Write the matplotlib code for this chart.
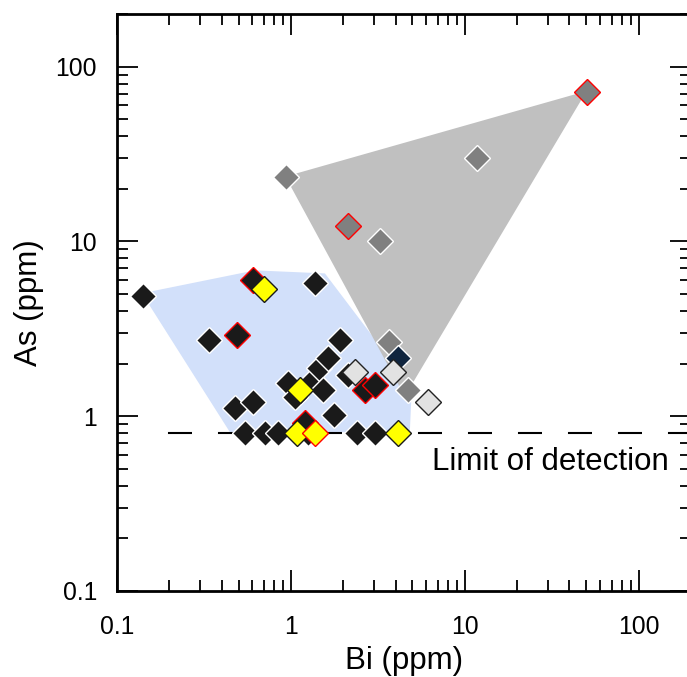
import matplotlib

matplotlib.use("Agg")

import matplotlib.pyplot as plt
from matplotlib.ticker import FixedLocator, LogLocator, NullFormatter, FixedFormatter

plt.rcParams["font.family"] = ["Liberation Sans", "DejaVu Sans"]
plt.rcParams["lines.scale_dashes"] = False

# --- data (Bi ppm, As ppm) ---
bi_black = [0.141, 0.338, 0.477, 0.605, 1.37, 0.96, 1.05, 1.34, 1.45, 1.63, 1.53, 1.77,
            2.13, 1.91, 0.544, 0.709, 0.842, 1.25, 2.39, 3.04]
as_black = [4.85, 2.72, 1.11, 1.20, 5.75, 1.54, 1.28, 1.61, 1.88, 2.14, 1.41, 1.01,
            1.71, 2.72, 0.8, 0.8, 0.8, 0.8, 0.8, 0.8]

bi_black_red = [0.49, 0.605, 1.20, 2.66, 3.04]
as_black_red = [2.90, 5.98, 0.92, 1.41, 1.50]

bi_gray = [0.936, 11.7, 3.25, 3.66, 4.70]
as_gray = [23.5, 30.2, 10.1, 2.65, 1.41]

bi_gray_red = [50.2, 2.13]
as_gray_red = [71.9, 12.3]

bi_navy = [4.12]
as_navy = [2.14]

bi_light = [2.33, 3.85, 6.13]
as_light = [1.78, 1.78, 1.20]

bi_yellow = [0.70, 1.13, 1.08, 4.12]
as_yellow = [5.32, 1.41, 0.8, 0.8]

bi_yellow_red = [1.37]
as_yellow_red = [0.8]

# field outlines
bi_blue_field = [0.139, 0.621, 1.57, 4.96, 4.83, 0.446]
as_blue_field = [5.05, 6.83, 6.56, 1.45, 0.81, 0.81]
bi_gray_field = [0.93, 50.2, 4.52]
as_gray_field = [23.5, 72.5, 1.30]

detection_limit = 0.8
tick_values = [0.1, 1, 10, 100]
tick_labels = ["0.1", "1", "10", "100"]

W, H = 687, 677
fig = plt.figure(figsize=(W / 100, H / 100), dpi=100)
fig.patch.set_facecolor("white")
ax = fig.add_axes([117 / W, (H - 591) / H, (691 - 117) / W, (591 - 14) / H])
ax.set_xscale("log")
ax.set_yscale("log")
ax.set_xlim(0.1, 200)
ax.set_ylim(0.1, 200)

ax.fill(bi_blue_field, as_blue_field, color="#d2e0fa", lw=0, zorder=1)
ax.fill(bi_gray_field, as_gray_field, color="#c0c0c0", lw=0, zorder=2)

# dashed detection limit, pattern starts on a gap
ax.plot([0.139, 200], [detection_limit, detection_limit], color="black", lw=1.5,
        linestyle=(17.3, (17.3, 18.7)), zorder=3)

ax.text(6.46, 0.491, "Limit of detection", fontsize=22.5, ha="left", va="baseline", zorder=6)

ms = 13
groups = [
    (bi_black, as_black, "#1a1a1a", "white"),
    (bi_black_red, as_black_red, "#1a1a1a", "#ff0000"),
    (bi_gray, as_gray, "#808080", "white"),
    (bi_gray_red, as_gray_red, "#808080", "#ff0000"),
    (bi_navy, as_navy, "#10253f", "white"),
    (bi_light, as_light, "#e2e2e2", "#222222"),
    (bi_yellow, as_yellow, "#ffff00", "#1a1a1a"),
    (bi_yellow_red, as_yellow_red, "#ffff00", "#ff0000"),
]
for k, (xs, ys, fc, ec) in enumerate(groups):
    ax.plot(xs, ys, ls="none", marker="D", ms=ms, mfc=fc, mec=ec, mew=1.0, zorder=4 + k * 0.01)

for side in ("left", "right", "top", "bottom"):
    ax.spines[side].set_linewidth(2.0)
    ax.spines[side].set_zorder(10)

for axis in (ax.xaxis, ax.yaxis):
    axis.set_major_locator(FixedLocator(tick_values))
    axis.set_major_formatter(FixedFormatter(tick_labels))
    axis.set_minor_locator(LogLocator(base=10, subs=range(2, 10)))
    axis.set_minor_formatter(NullFormatter())

ax.tick_params(which="both", direction="in", top=True, right=True, width=1.3)
ax.tick_params(which="major", length=14.8, labelsize=17.8)
ax.tick_params(which="minor", length=7.6)
ax.tick_params(axis="x", which="major", pad=17)
ax.tick_params(axis="y", which="major", pad=14.4)

ax.set_xlabel("Bi (ppm)", fontsize=22.5, labelpad=5)
ax.set_ylabel("As (ppm)", fontsize=22.5, labelpad=8)

fig.savefig("out.png", dpi=100, facecolor="white")
